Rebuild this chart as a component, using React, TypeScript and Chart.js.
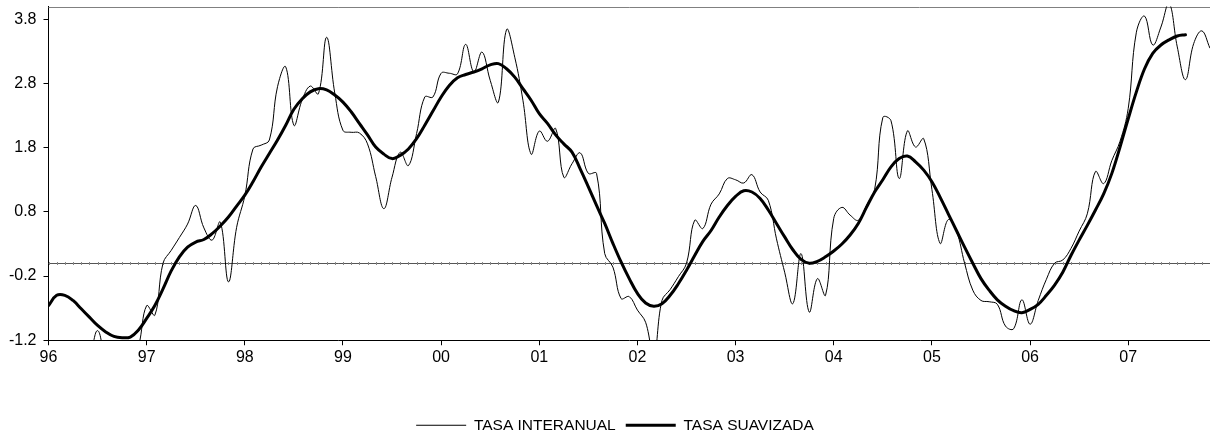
import React, { useEffect, useRef } from 'react';
import { Chart, registerables } from 'chart.js';

Chart.register(...registerables);

// Year labels for the x axis (one tick every 12 months, starting Jan 1996)
const yearLabels = ['96', '97', '98', '99', '00', '01', '02', '03', '04', '05', '06', '07'];

// Y axis tick values
const yTickValues = [-1.2, -0.2, 0.8, 1.8, 2.8, 3.8];

const seriesNames = ['TASA INTERANUAL', 'TASA SUAVIZADA'];

// Monthly values, Jan 1996 onward
const tasaInteranual = [
  -1.6, -1.7, -1.8, -1.7, -1.6, -1.45, -1.05, -1.5, -1.7, -1.8, -1.6, -1.3,
  -0.66, -0.81, 0.0, 0.2, 0.4, 0.61, 0.9, 0.55, 0.36, 0.64, -0.29, 0.56,
  1.05, 1.78, 1.84, 1.92, 2.75, 3.06, 2.15, 2.54, 2.76, 2.64, 3.52, 2.65,
  2.07, 2.04, 2.03, 1.86, 1.35, 0.85, 1.34, 1.73, 1.52, 2.02, 2.59, 2.59,
  2.96, 2.96, 2.95, 3.41, 2.98, 3.29, 2.85, 2.51, 3.64, 3.21, 2.54, 1.7,
  2.06, 1.9, 2.1, 1.34, 1.55, 1.72, 1.4, 1.4, 0.15, -0.06, -0.55, -0.52,
  -0.73, -0.92, -1.45, -0.58, -0.41, -0.21, 0.0, 0.67, 0.54, 0.92, 1.08, 1.32,
  1.3, 1.25, 1.38, 1.11, 0.98, 0.38, -0.14, -0.63, 0.15, -0.76, -0.24, -0.5,
  0.7, 0.87, 0.75, 0.67, 0.9, 1.15, 2.27, 2.22, 1.32, 2.06, 1.81, 1.94,
  1.15, 0.31, 0.68, 0.5, 0.0, -0.42, -0.58, -0.6, -0.64, -0.98, -1.02, -0.57,
  -0.95, -0.58, -0.25, 0.0, 0.05, 0.23, 0.5, 0.77, 1.43, 1.24, 1.6, 1.9,
  2.41, 3.6, 3.85, 3.4, 3.68, 4.05, 3.37, 2.86, 3.42, 3.62, 3.35,
];

const tasaSuavizada = [
  -0.66, -0.5, -0.5, -0.58, -0.71, -0.84, -0.97, -1.07, -1.14, -1.16, -1.15, -1.04,
  -0.86, -0.66, -0.4, -0.12, 0.1, 0.25, 0.33, 0.37, 0.46, 0.58, 0.72, 0.89,
  1.06, 1.27, 1.5, 1.71, 1.92, 2.15, 2.4, 2.56, 2.67, 2.72, 2.7, 2.62,
  2.51, 2.36, 2.18, 2.0, 1.81, 1.7, 1.63, 1.68, 1.78, 1.94, 2.15, 2.37,
  2.59, 2.77, 2.89, 2.94, 2.98, 3.03, 3.09, 3.11, 3.03, 2.9, 2.72, 2.54,
  2.33, 2.18, 2.0, 1.86, 1.73, 1.47, 1.19, 0.9, 0.62, 0.31, 0.02, -0.24,
  -0.47, -0.62, -0.67, -0.63, -0.5, -0.32, -0.11, 0.12, 0.34, 0.51, 0.72, 0.9,
  1.04, 1.13, 1.11, 1.01, 0.83, 0.62, 0.41, 0.21, 0.06, 0.0, 0.03, 0.1,
  0.19, 0.3, 0.44, 0.62, 0.87, 1.11, 1.3, 1.5, 1.63, 1.67, 1.58, 1.45,
  1.27, 1.03, 0.77, 0.51, 0.25, 0.0, -0.24, -0.42, -0.57, -0.67, -0.74, -0.77,
  -0.72, -0.64, -0.5, -0.34, -0.14, 0.12, 0.36, 0.59, 0.83, 1.08, 1.4, 1.81,
  2.25, 2.67, 3.03, 3.27, 3.4, 3.48, 3.54, 3.56,
];

const Y_MIN = -1.2;
const Y_MAX = 4.0;
const X_MIN = 0;
const X_MAX = 142;
const FONT = "'Liberation Sans', Arial, Helvetica, sans-serif";
const LEGEND_SHIFT = 10;

const framePlugin = {
  id: 'frameLines',
  afterLayout(chart: any) {
    if (chart.legend) {
      chart.legend.left += LEGEND_SHIFT;
      chart.legend.right += LEGEND_SHIFT;
    }
  },
  beforeDatasetsDraw(chart: any) {
    const { ctx, chartArea, scales } = chart;
    const xs = scales.x;
    const ys = scales.y;
    ctx.save();
    // zero reference line
    const y0 = Math.round(ys.getPixelForValue(0)) + 0.5;
    ctx.strokeStyle = '#555';
    ctx.lineWidth = 1;
    ctx.beginPath();
    ctx.moveTo(chartArea.left, y0);
    ctx.lineTo(chartArea.right, y0);
    ctx.stroke();
    // monthly minor ticks on the zero line
    ctx.strokeStyle = '#888';
    ctx.beginPath();
    for (let m = Math.ceil(xs.min); m <= xs.max; m++) {
      const xx = Math.round(xs.getPixelForValue(m)) + 0.5;
      ctx.moveTo(xx, y0 - 1.5);
      ctx.lineTo(xx, y0 + 1.5);
    }
    ctx.stroke();
    // top frame line
    ctx.strokeStyle = '#808080';
    ctx.beginPath();
    const yt = Math.round(chartArea.top) + 0.5;
    ctx.moveTo(chartArea.left, yt);
    ctx.lineTo(chartArea.right, yt);
    ctx.stroke();
    ctx.restore();
  },
};

export default function App() {
  const ref = useRef<HTMLCanvasElement>(null);

  useEffect(() => {
    if (!ref.current) return;
    Chart.defaults.font.family = FONT;
    const toPoints = (arr: number[]) => arr.map((v, i) => ({ x: i, y: v }));
    const chart = new Chart(ref.current, {
      type: 'line',
      data: {
        datasets: [
          {
            label: seriesNames[0],
            data: toPoints(tasaInteranual),
            borderColor: '#000',
            backgroundColor: '#000',
            borderWidth: 1,
            pointRadius: 0,
            tension: 0.4,
            fill: false,
            clip: 0,
          },
          {
            label: seriesNames[1],
            data: toPoints(tasaSuavizada),
            borderColor: '#000',
            backgroundColor: '#000',
            borderWidth: 3,
            pointRadius: 0,
            tension: 0.4,
            fill: false,
            borderCapStyle: 'round',
            borderJoinStyle: 'round',
          },
        ],
      },
      options: {
        animation: false,
        responsive: true,
        maintainAspectRatio: false,
        events: [],
        layout: { padding: { left: 0, right: 0, top: 6.5, bottom: 0 } },
        plugins: {
          legend: {
            position: 'bottom',
            labels: {
              usePointStyle: true,
              pointStyle: 'line',
              pointStyleWidth: 50,
              color: '#000',
              padding: 10,
              font: { size: 15.5, family: FONT },
            },
          },
          tooltip: { enabled: false },
        },
        scales: {
          x: {
            type: 'linear',
            min: X_MIN,
            max: X_MAX,
            afterBuildTicks: (s: any) => {
              s.ticks = yearLabels.map((_, i) => ({ value: i * 12 }));
            },
            afterFit: (s: any) => {
              s.height = 67.25;
              s.paddingLeft = 0;
              s.paddingRight = 0;
            },
            ticks: {
              callback: (v: any) => yearLabels[Math.round(Number(v) / 12)] ?? '',
              autoSkip: false,
              maxRotation: 0,
              padding: 3,
              color: '#000',
              font: { size: 16, family: FONT },
            },
            grid: { drawOnChartArea: false, drawTicks: true, tickLength: 5, color: '#000' },
            border: { display: true, color: '#000', width: 1 },
          },
          y: {
            min: Y_MIN,
            max: Y_MAX,
            afterBuildTicks: (s: any) => {
              s.ticks = yTickValues.map((v) => ({ value: v }));
            },
            afterFit: (s: any) => {
              s.width = 48.5;
              s.paddingTop = 0;
              s.paddingBottom = 0;
            },
            ticks: {
              callback: (v: any) => Number(v).toFixed(1),
              padding: 7,
              color: '#000',
              font: { size: 16, family: FONT },
            },
            grid: { drawOnChartArea: false, drawTicks: true, tickLength: 5, color: '#000' },
            border: { display: true, color: '#000', width: 1 },
          },
        },
      },
      plugins: [framePlugin],
    } as any);
    return () => chart.destroy();
  }, []);

  return (
    <div style={{ position: 'fixed', left: 0, top: 0, width: 1210, height: 430, overflow: 'hidden', background: '#fff' }}>
      <div style={{ position: 'relative', width: 1210, height: 443 }}>
        <canvas ref={ref} />
      </div>
    </div>
  );
}
